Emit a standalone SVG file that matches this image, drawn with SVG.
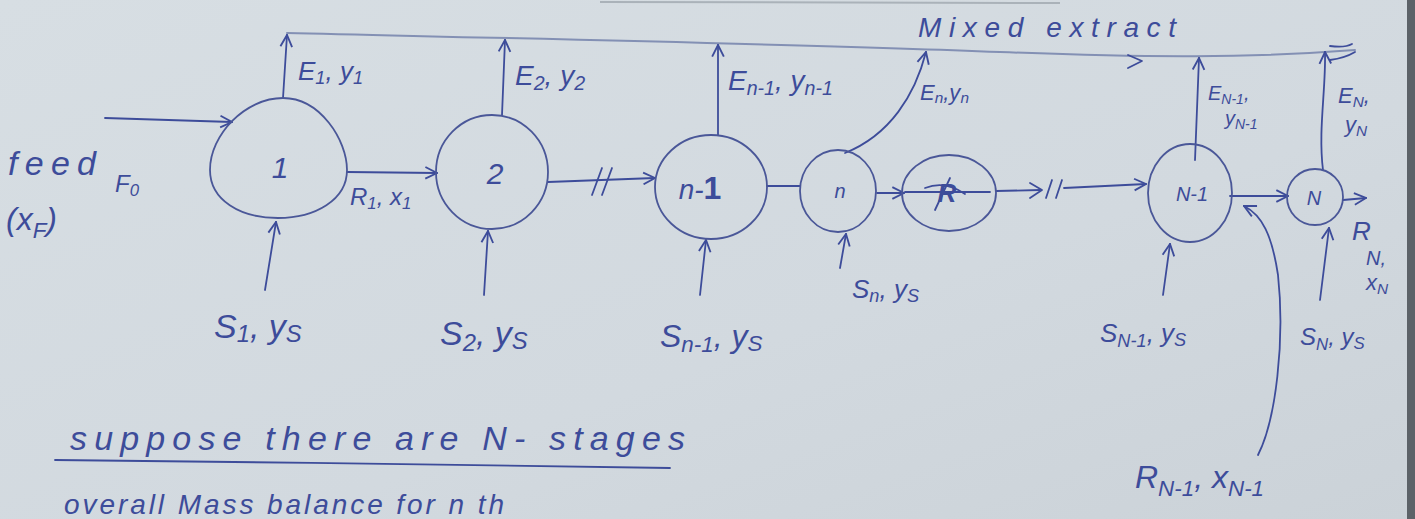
<svg xmlns="http://www.w3.org/2000/svg" width="1415" height="519" viewBox="0 0 1415 519">
  <defs>
    <linearGradient id="paper" x1="0" y1="0" x2="1" y2="1">
      <stop offset="0" stop-color="#d7dee3"/>
      <stop offset="0.6" stop-color="#d2d9df"/>
      <stop offset="1" stop-color="#cbd2d8"/>
    </linearGradient>
    <marker id="arr" viewBox="0 0 12 12" refX="11" refY="6" markerWidth="14" markerHeight="14" markerUnits="userSpaceOnUse" orient="auto">
      <path d="M1,1 L11,6 L1,11" fill="none" stroke="#3d4c9a" stroke-width="1.6"/>
    </marker>
    <style>
      .ink { fill: none; stroke: #3d4c9a; stroke-width: 1.8; stroke-linecap: round; stroke-linejoin: round; }
      .faint { fill: none; stroke: #8390b4; stroke-width: 2; stroke-linecap: round; }
      .stage { fill: none; stroke: #4a5798; stroke-width: 1.8; }
      .lbl { font-family: "Liberation Sans", Arial, sans-serif; font-style: italic; fill: #3d4c9a; }
      .sub { font-size: 70%; }
    </style>
  </defs>

  <!-- paper -->
  <rect width="1415" height="519" fill="url(#paper)"/>
  <rect x="1407" y="0" width="8" height="519" fill="#5c6268"/>
  <line x1="600" y1="2" x2="1060" y2="3" stroke="#aab2b9" stroke-width="2"/>

  <!-- connectors -->
  <g id="connectors">
    <!-- extract header line -->
    <path class="faint" d="M287,33 C500,38 800,44 1000,52 C1150,58 1250,58 1355,50"/>
    <path class="ink" d="M1128,55 L1142,61 L1128,68"/>
    <path class="ink" d="M1330,46 Q1345,48 1352,44 M1330,60 Q1345,58 1355,52"/>
    <!-- feed -->
    <path class="ink" d="M105,118 L232,122" marker-end="url(#arr)"/>
    <!-- extract streams -->
    <path class="ink" d="M283,98 L287,35" marker-end="url(#arr)"/>
    <path class="ink" d="M502,115 L505,40" marker-end="url(#arr)"/>
    <path class="ink" d="M718,135 L718,45" marker-end="url(#arr)"/>
    <path class="ink" d="M845,153 C890,135 915,95 926,52" marker-end="url(#arr)"/>
    <path class="ink" d="M1195,160 L1199,58" marker-end="url(#arr)"/>
    <path class="ink" d="M1323,170 C1318,130 1326,90 1325,52" marker-end="url(#arr)"/>
    <!-- raffinate train -->
    <path class="ink" d="M347,172 L437,173" marker-end="url(#arr)"/>
    <path class="ink" d="M548,182 L655,178" marker-end="url(#arr)"/>
    <path class="ink" d="M592,195 L602,168 M602,195 L612,168"/>
    <path class="ink" d="M767,186 L800,186"/>
    <path class="ink" d="M877,193 L904,193" stroke-width="3" marker-end="url(#arr)"/>
    <path class="ink" d="M996,191 L1040,190"/>
    <path class="ink" d="M1030,183 L1042,190 L1030,198"/>
    <path class="ink" d="M1046,198 L1052,180 M1056,198 L1062,180"/>
    <path class="ink" d="M1064,188 L1146,184" marker-end="url(#arr)"/>
    <path class="ink" d="M1230,196 L1288,196" marker-end="url(#arr)"/>
    <path class="ink" d="M1343,200 L1366,198" marker-end="url(#arr)"/>
    <!-- R(N-1) side stream -->
    <path class="ink" d="M1258,455 C1276,420 1285,340 1278,275 C1272,235 1262,215 1244,206" marker-end="url(#arr)"/>
    <!-- solvent feeds -->
    <path class="ink" d="M265,290 L276,222" marker-end="url(#arr)"/>
    <path class="ink" d="M484,295 L488,231" marker-end="url(#arr)"/>
    <path class="ink" d="M700,295 L706,240" marker-end="url(#arr)"/>
    <path class="ink" d="M840,268 L846,234" marker-end="url(#arr)"/>
    <path class="ink" d="M1163,295 L1170,244" marker-end="url(#arr)"/>
    <path class="ink" d="M1320,300 L1329,228" marker-end="url(#arr)"/>
  </g>

  <!-- stages -->
  <g id="stage-1">
    <path class="stage" d="M283,98 C320,98 347,140 347,170 C347,200 315,218 278,218 C240,218 210,200 210,170 C210,135 245,98 283,98 Z"/>
    <text class="lbl" x="280" y="178" font-size="30" text-anchor="middle">1</text>
  </g>
  <g id="stage-2">
    <ellipse class="stage" cx="492" cy="172" rx="56" ry="57"/>
    <text class="lbl" x="495" y="184" font-size="30" text-anchor="middle">2</text>
  </g>
  <g id="stage-n-1">
    <ellipse class="stage" cx="711" cy="187" rx="56" ry="52"/>
    <text class="lbl" x="700" y="199" font-size="28" text-anchor="middle">n-<tspan font-weight="bold" font-style="normal" font-size="32">1</tspan></text>
  </g>
  <g id="stage-n">
    <ellipse class="stage" cx="838" cy="191" rx="38" ry="41"/>
    <text class="lbl" x="840" y="198" font-size="20" text-anchor="middle">n</text>
  </g>
  <g id="stage-n+1">
    <ellipse class="stage" cx="949" cy="193" rx="47" ry="38"/>
    <text class="lbl" x="947" y="202" font-size="26" text-anchor="middle" font-weight="bold">R</text>
    <path class="ink" d="M905,192 L990,192 M925,188 Q945,180 965,194 M935,210 L950,178" stroke-width="2.5"/>
  </g>
  <g id="stage-N-1">
    <ellipse class="stage" cx="1190" cy="193" rx="42" ry="49"/>
    <text class="lbl" x="1192" y="201" font-size="20" text-anchor="middle">N-1</text>
  </g>
  <g id="stage-N">
    <ellipse class="stage" cx="1315" cy="197" rx="28" ry="28"/>
    <text class="lbl" x="1314" y="205" font-size="20" text-anchor="middle">N</text>
  </g>

  <!-- stream labels -->
  <g id="labels">
    <text class="lbl" x="8" y="175" font-size="34" textLength="88" lengthAdjust="spacing">feed</text>
    <text class="lbl" x="6" y="230" font-size="32">(x<tspan class="sub" dy="8">F</tspan><tspan dy="-8">)</tspan></text>
    <text class="lbl" x="115" y="192" font-size="24">F<tspan class="sub" dy="4">0</tspan></text>

    <text class="lbl" x="298" y="80" font-size="26">E<tspan class="sub" dy="4">1</tspan><tspan dy="-4">, y</tspan><tspan class="sub" dy="4">1</tspan></text>
    <text class="lbl" x="515" y="85" font-size="28">E<tspan class="sub" dy="5">2</tspan><tspan dy="-5">, y</tspan><tspan class="sub" dy="5">2</tspan></text>
    <text class="lbl" x="728" y="90" font-size="28">E<tspan class="sub" dy="5">n-1</tspan><tspan dy="-5">, y</tspan><tspan class="sub" dy="5">n-1</tspan></text>
    <text class="lbl" x="920" y="100" font-size="22">E<tspan class="sub" dy="3">n</tspan><tspan dy="-3">,y</tspan><tspan class="sub" dy="3">n</tspan></text>
    <text class="lbl" x="918" y="37" font-size="28" textLength="258" lengthAdjust="spacing">Mixed extract</text>
    <text class="lbl" x="1208" y="100" font-size="20">E<tspan class="sub" dy="4">N-1</tspan><tspan dy="-4">,</tspan></text>
    <text class="lbl" x="1225" y="125" font-size="20">y<tspan class="sub" dy="4">N-1</tspan></text>
    <text class="lbl" x="1338" y="103" font-size="22">E<tspan class="sub" dy="4">N</tspan><tspan dy="-4">,</tspan></text>
    <text class="lbl" x="1345" y="132" font-size="22">y<tspan class="sub" dy="4">N</tspan></text>

    <text class="lbl" x="350" y="205" font-size="24">R<tspan class="sub" dy="4">1</tspan><tspan dy="-4">, x</tspan><tspan class="sub" dy="4">1</tspan></text>
    <text class="lbl" x="1352" y="240" font-size="26">R</text>
    <text class="lbl" x="1366" y="265" font-size="20">N,</text>
    <text class="lbl" x="1366" y="290" font-size="22">x<tspan class="sub" dy="4">N</tspan></text>

    <text class="lbl" x="214" y="338" font-size="34">S<tspan class="sub" dy="4">1</tspan><tspan dy="-4">, y</tspan><tspan class="sub" dy="4">S</tspan></text>
    <text class="lbl" x="440" y="345" font-size="34">S<tspan class="sub" dy="6">2</tspan><tspan dy="-6">, y</tspan><tspan class="sub" dy="4">S</tspan></text>
    <text class="lbl" x="660" y="347" font-size="32">S<tspan class="sub" dy="5">n-1</tspan><tspan dy="-5">, y</tspan><tspan class="sub" dy="4">S</tspan></text>
    <text class="lbl" x="852" y="298" font-size="26">S<tspan class="sub" dy="4">n</tspan><tspan dy="-4">, y</tspan><tspan class="sub" dy="4">S</tspan></text>
    <text class="lbl" x="1100" y="342" font-size="26">S<tspan class="sub" dy="5">N-1</tspan><tspan dy="-5">, y</tspan><tspan class="sub" dy="4">S</tspan></text>
    <text class="lbl" x="1300" y="345" font-size="24">S<tspan class="sub" dy="5">N</tspan><tspan dy="-5">, y</tspan><tspan class="sub" dy="4">S</tspan></text>
    <text class="lbl" x="1135" y="488" font-size="32">R<tspan class="sub" dy="8">N-1</tspan><tspan dy="-8">, x</tspan><tspan class="sub" dy="8">N-1</tspan></text>
  </g>

  <!-- notes under the diagram -->
  <g id="notes">
    <text class="lbl" x="70" y="450" font-size="34" textLength="615" lengthAdjust="spacing">suppose there are N- stages</text>
    <path class="ink" d="M55,460 C250,462 500,465 670,468"/>
    <text class="lbl" x="64" y="514" font-size="28" textLength="440" lengthAdjust="spacing">overall Mass balance for n th</text>
  </g>
</svg>
